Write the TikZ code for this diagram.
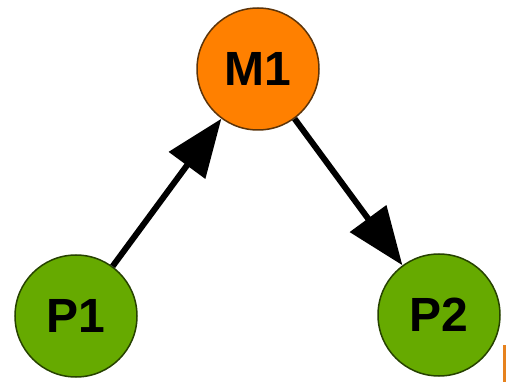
\documentclass[tikz,border=0pt]{standalone}
\usepackage{fontspec}
\setmainfont{Liberation Sans}
\usepackage{tikz}
\usetikzlibrary{arrows.meta}

\definecolor{mfill}{RGB}{255,128,0}
\definecolor{mdraw}{RGB}{92,52,10}
\definecolor{pfill}{RGB}{102,170,0}
\definecolor{pdraw}{RGB}{38,66,0}
\definecolor{edgemark}{RGB}{230,130,30}

\begin{document}
\begin{tikzpicture}[x=1pt,y=1pt,yscale=-1,xscale=1,
    place/.style={circle, minimum size=122pt, inner sep=0pt, line width=1.5pt,
        font=\fontsize{48}{48}\selectfont\bfseries},
    machine/.style={place, draw=mdraw, fill=mfill},
    part/.style={place, draw=pdraw, fill=pfill},
    flow/.style={line width=6pt, -{Triangle[length=58pt,width=44pt]}}]
    \path[use as bounding box] (0,0) rectangle (506,382);

    % Machine
    \node[machine] (M1) at (258,69) {M1};
    % Parts
    \node[part] (P1) at (76,316) {P1};
    \node[part] (P2) at (439,315) {P2};

    % Connection
    \draw[flow] (P1) -- (M1);
    % Connection
    \draw[flow] (M1) -- (P2);

    % Edge mark
    \fill[edgemark] (503,345) rectangle (506,382);
\end{tikzpicture}
\end{document}
